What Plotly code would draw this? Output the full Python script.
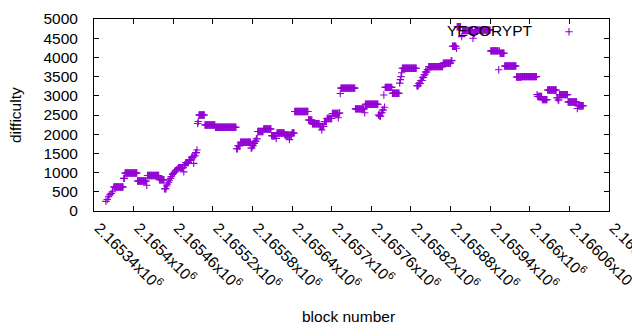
import plotly.graph_objects as go

# ---------------- data ----------------
# block numbers are stored as offsets from this origin
block_origin = 2165340

# runs of consecutive blocks sharing one difficulty value (start offset, end offset, difficulty)
run_start_offset = [
    18, 20, 22, 24, 26, 28, 30, 45, 47, 66, 80, 81, 99, 107,
    110, 111, 113, 114, 116, 117, 119, 120, 122, 123, 125, 127, 128, 136, 137,
    139, 144, 148, 151, 152, 154, 156, 157, 158, 159, 168, 184,
    216, 218, 222, 238, 240, 242, 244, 246, 248, 257,
    269, 276, 277, 289, 296, 297, 300, 304, 325, 331,
    342, 345, 346, 349, 353, 361, 370, 371, 373, 374,
    396, 410, 411, 431, 433, 435, 437, 439, 440, 441, 452,
    463, 464, 465, 466, 467, 489, 492, 495, 498, 500, 502, 505, 507,
    529, 541, 543, 549, 550, 557, 558, 574, 575, 577,
    601, 613, 614, 615, 622, 640, 648, 671, 672, 679, 687,
    701, 703, 705, 718, 732, 733,
]
run_end_offset = [
    18, 20, 22, 24, 26, 28, 44, 46, 65, 79, 80, 98, 106, 109,
    110, 111, 113, 114, 116, 117, 119, 120, 122, 123, 125, 127, 135, 136, 138,
    143, 147, 150, 151, 153, 155, 156, 157, 158, 167, 183, 215,
    217, 221, 237, 239, 241, 243, 245, 247, 256, 268,
    275, 276, 288, 295, 296, 299, 303, 324, 330, 341,
    344, 345, 348, 352, 360, 369, 370, 372, 373, 395,
    409, 410, 430, 432, 434, 436, 438, 439, 440, 451, 462,
    463, 464, 465, 466, 488, 491, 494, 497, 499, 501, 504, 506, 528,
    540, 542, 548, 549, 555, 557, 573, 574, 576, 600,
    612, 613, 614, 621, 639, 647, 670, 671, 678, 686, 700,
    702, 704, 717, 731, 732, 741,
]
run_difficulty = [
    250, 300, 370, 420, 460, 500, 625, 850, 990, 780, 670, 925, 815, 580,
    650, 700, 750, 800, 850, 900, 950, 980, 1010, 1040, 1070, 1100, 1130, 1020, 1200,
    1260, 1330, 1400, 1240, 1440, 1520, 1590, 2280, 2330, 2500, 2240, 2180,
    1620, 1700, 1790, 1640, 1700, 1760, 1820, 1880, 2070, 2135,
    1960, 1890, 2030, 1980, 1860, 1980, 2030, 2590, 2370, 2270,
    2200, 2110, 2200, 2330, 2410, 2540, 2430, 2550, 3060, 3200,
    2660, 2560, 2780, 2500, 2470, 2560, 2630, 3020, 2700, 3220, 3065,
    3330, 3420, 3500, 3600, 3716, 3260, 3320, 3400, 3480, 3550, 3620, 3680, 3760,
    3850, 3915, 4290, 4240, 4800, 4540, 4700, 4500, 4620, 4710,
    4170, 3680, 4170, 4110, 3776, 3490, 3500, 3030, 2980, 2900, 3150,
    2950, 2890, 3030, 2840, 2670, 2740,
]

series_name = "YECORYPT"

x_tick_values = [2165340, 2165400, 2165460, 2165520, 2165580, 2165640, 2165700,
                 2165760, 2165820, 2165880, 2165940, 2166000, 2166060, 2166120]
x_tick_labels = ["2.16534", "2.1654", "2.16546", "2.16552", "2.16558", "2.16564", "2.1657",
                 "2.16576", "2.16582", "2.16588", "2.16594", "2.166", "2.16606", "2.16612"]
y_tick_values = [0, 500, 1000, 1500, 2000, 2500, 3000, 3500, 4000, 4500, 5000]

# ---------------- expand runs into per-block points ----------------
blocks, difficulty = [], []
for s, e, v in zip(run_start_offset, run_end_offset, run_difficulty):
    for off in range(s, e + 1):
        blocks.append(block_origin + off)
        difficulty.append(v)

COLOR = "#9400D3"
FONT = "Liberation Sans"
FS = 15.5
marker = dict(symbol="cross-thin", size=5.3, line=dict(color=COLOR, width=1.1), color=COLOR)

fig = go.Figure()
fig.add_trace(go.Scatter(x=blocks, y=difficulty, mode="markers", marker=marker,
                         name=series_name, showlegend=False))
# legend key sample (symbol only; name shown as text to its left, gnuplot-style)
fig.add_trace(go.Scatter(x=[None], y=[None], mode="markers", marker=marker,
                         name="", showlegend=True))

axis_common = dict(
    showline=True, linecolor="black", linewidth=1, mirror="ticks",
    ticks="inside", ticklen=5, tickcolor="black", tickwidth=1,
    showgrid=False, zeroline=False, automargin=False,
    tickfont=dict(family=FONT, size=FS, color="black"),
)

# the page body adds an 8px offset, so the figure is 8px smaller and margins shifted
fig.update_layout(
    width=632, height=322,
    margin=dict(l=86, r=31, t=11, b=119, autoexpand=False),
    paper_bgcolor="white", plot_bgcolor="white",
    font=dict(family=FONT, size=FS, color="black"),
    xaxis=dict(range=[x_tick_values[0], x_tick_values[-1]],
               tickvals=x_tick_values,
               ticktext=[t + "x10<sup>6</sup>" for t in x_tick_labels],
               tickangle=45, ticklabelstandoff=1, ticklabelshift=5,
               ticklabeloverflow="allow", **axis_common),
    yaxis=dict(range=[y_tick_values[0], y_tick_values[-1]], tickvals=y_tick_values,
               ticklabelstandoff=12, **axis_common),
    legend=dict(x=0.8835, y=1.02, xanchor="left", yanchor="top",
                bgcolor="rgba(0,0,0,0)", borderwidth=0,
                font=dict(family=FONT, size=FS)),
    annotations=[
        dict(text=series_name, xref="paper", yref="paper", x=0.8563, y=0.940,
             xanchor="right", yanchor="middle", showarrow=False,
             font=dict(family=FONT, size=FS, color="black")),
        dict(text="difficulty", xref="paper", yref="paper", x=-0.1534, y=0.5,
             textangle=-90, xanchor="center", yanchor="middle", showarrow=False,
             font=dict(family=FONT, size=FS, color="black")),
        dict(text="block number", xref="paper", yref="paper", x=0.495, y=-0.547,
             xanchor="center", yanchor="middle", showarrow=False,
             font=dict(family=FONT, size=FS, color="black")),
    ],
)

fig.write_html("out.html")
